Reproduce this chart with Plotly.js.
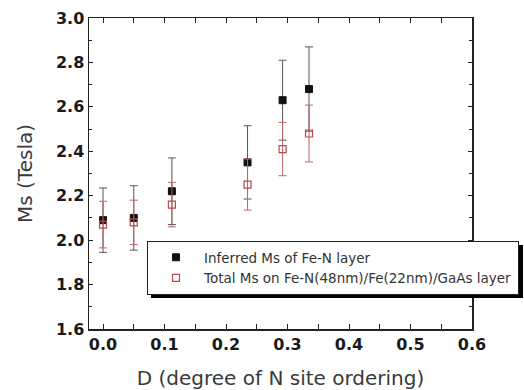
<!DOCTYPE html>
<html>
<head>
<meta charset="utf-8">
<script src="https://cdn.plot.ly/plotly-3.0.1.min.js"></script>
<style>
html,body{margin:0;padding:0;background:#fff;}
#chart{width:524px;height:390px;}
</style>
</head>
<body>
<div id="chart"></div>
<script>
// Degree of N site ordering
const dValues = [0.0, 0.05, 0.112, 0.235, 0.292, 0.335];
// Inferred Ms of Fe-N layer (Tesla)
const inferredMs = [2.09, 2.10, 2.22, 2.35, 2.63, 2.68];
const inferredErr = [0.145, 0.145, 0.15, 0.165, 0.18, 0.19];
// Total Ms on Fe-N(48nm)/Fe(22nm)/GaAs layer (Tesla)
const totalMs = [2.07, 2.08, 2.16, 2.25, 2.41, 2.48];
const totalErr = [0.105, 0.10, 0.10, 0.115, 0.12, 0.128];

const seriesNames = ['Inferred Ms of Fe-N layer', 'Total Ms on Fe-N(48nm)/Fe(22nm)/GaAs layer'];
const xTickVals = [0.0, 0.1, 0.2, 0.3, 0.4, 0.5, 0.6];
const yTickVals = [1.6, 1.8, 2.0, 2.2, 2.4, 2.6, 2.8, 3.0];

const W = 524, H = 390;
const L = 89, R = 52, T = 18, B = 61;
const pw = W - L - R, ph = H - T - B;
const px = v => (v - L) / pw;
const py = v => (H - B - v) / ph;

const traces = [
  {
    x: dValues, y: inferredMs, name: seriesNames[0], type: 'scatter', mode: 'markers',
    marker: {symbol: 'square', size: 7, color: '#111', line: {color: '#111', width: 1}},
    error_y: {type: 'data', array: inferredErr, visible: true, color: '#555', thickness: 1, width: 4}
  },
  {
    x: dValues, y: totalMs, name: seriesNames[1], type: 'scatter', mode: 'markers',
    marker: {symbol: 'square-open', size: 7, color: '#b8484a', line: {width: 1.2}},
    error_y: {type: 'data', array: totalErr, visible: true, color: '#c06466', thickness: 1, width: 4}
  }
];

const tickFont = {family: 'DejaVu Sans', size: 16, color: '#1a1a1a', weight: 'bold'};
const titleFont = {family: 'DejaVu Sans', size: 20, color: '#3a3a3a'};

const layout = {
  width: W, height: H,
  margin: {l: L, r: R, t: T, b: B, pad: 0, autoexpand: false},
  paper_bgcolor: '#fff', plot_bgcolor: '#fff',
  showlegend: true,
  xaxis: {
    range: [-0.0228, 0.6], tickvals: xTickVals, ticktext: xTickVals.map(v => v.toFixed(1)),
    ticks: 'inside', ticklen: 5, tickwidth: 1, tickcolor: '#222',
    minor: {dtick: 0.05, tick0: 0, ticks: 'inside', ticklen: 5, tickwidth: 1, tickcolor: '#222'},
    showline: true, linecolor: '#222', linewidth: 1.5, mirror: 'ticks',
    showgrid: false, zeroline: false, tickfont: tickFont,
    title: {text: 'D (degree of N site ordering)', font: titleFont, standoff: 19}
  },
  yaxis: {
    range: [1.6, 3.0], tickvals: yTickVals, ticktext: yTickVals.map(v => v.toFixed(1)),
    ticks: 'inside', ticklen: 4, tickwidth: 1, tickcolor: '#222',
    minor: {dtick: 0.1, tick0: 1.6, ticks: 'inside', ticklen: 3, tickwidth: 1, tickcolor: '#222'},
    showline: true, linecolor: '#222', linewidth: 1.5, mirror: 'ticks',
    showgrid: false, zeroline: false, tickfont: tickFont,
    title: {text: 'Ms (Tesla)', font: titleFont, standoff: 18}
  },
  legend: {
    x: px(147), y: py(241), xanchor: 'left', yanchor: 'top',
    bgcolor: '#fff', bordercolor: '#222', borderwidth: 1,
    font: {family: 'DejaVu Sans', size: 13.5, color: '#333'},
    itemwidth: 46, tracegroupgap: 0
  },
  shapes: [
    {type: 'rect', xref: 'paper', yref: 'paper', x0: px(151), x1: px(523), y0: py(298), y1: py(245),
     fillcolor: '#000', line: {width: 0}, layer: 'above'}
  ]
};

Plotly.newPlot('chart', traces, layout, {displayModeBar: false, staticPlot: true});
</script>
</body>
</html>
